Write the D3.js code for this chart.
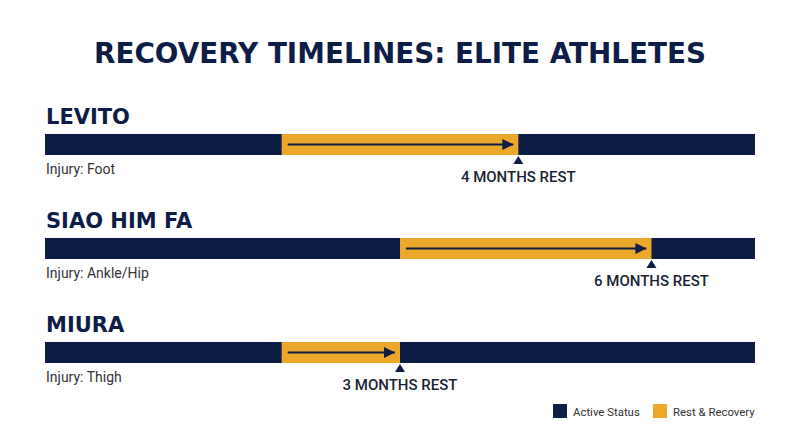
<!DOCTYPE html>
<html>
<head>
<meta charset="utf-8">
<script src="https://cdn.jsdelivr.net/npm/d3@7"></script>
<style>
  body { margin: 0; background: #fff; }
  svg { display: block; }
</style>
</head>
<body>
<div id="chart"></div>
<script>
// data
var athletes = ["LEVITO", "SIAO HIM FA", "MIURA"];
var injuries = ["Injury: Foot", "Injury: Ankle/Hip", "Injury: Thigh"];
var restStart = [4, 6, 4];
var restEnd = [8, 10.25, 6];
var restLabels = ["4 MONTHS REST", "6 MONTHS REST", "3 MONTHS REST"];
var legendLabels = ["Active Status", "Rest & Recovery"];

var width = 800, height = 447;
var navy = "#0e1d45", orange = "#eca82a";
var headFont = "'DejaVu Sans', sans-serif";
var bodyFont = "Roboto, sans-serif";

var svg = d3.select("#chart")
    .append("svg")
    .attr("width", width)
    .attr("height", height);

// arrow head
svg.append("defs").append("marker")
    .attr("id", "head")
    .attr("viewBox", "0 0 10 10")
    .attr("refX", 10).attr("refY", 5)
    .attr("markerWidth", 5.5).attr("markerHeight", 5.5)
    .attr("markerUnits", "strokeWidth")
    .attr("orient", "auto")
    .append("path")
    .attr("d", "M0,0L10,5L0,10Z")
    .attr("fill", navy);

// title
svg.append("text")
    .attr("x", 400).attr("y", 63)
    .attr("text-anchor", "middle")
    .attr("textLength", 612)
    .attr("lengthAdjust", "spacingAndGlyphs")
    .style("font-family", headFont)
    .style("font-weight", 700)
    .style("font-size", "29px")
    .style("fill", navy)
    .text("RECOVERY TIMELINES: ELITE ATHLETES");

var x = d3.scaleLinear().domain([0, 12]).range([45, 755]);
var y = d3.scalePoint().domain(athletes).range([134, 342]);
var barH = 21;

var rows = athletes.map(function (a, i) {
    return { name: a, injury: injuries[i], start: restStart[i], end: restEnd[i], label: restLabels[i] };
});

var row = svg.selectAll("g.row")
    .data(rows)
    .enter()
    .append("g")
    .attr("class", "row")
    .attr("transform", function (d) { return "translate(0," + y(d.name) + ")"; });

// name
row.append("text")
    .attr("x", 46).attr("y", -10)
    .style("font-family", headFont)
    .style("font-weight", 700)
    .style("font-size", "21px")
    .style("fill", navy)
    .text(function (d) { return d.name; });

// active bar (full span)
row.append("rect")
    .attr("x", x(0))
    .attr("width", x(12) - x(0))
    .attr("height", barH)
    .attr("fill", navy);

// rest bar
row.append("rect")
    .attr("x", function (d) { return x(d.start); })
    .attr("width", function (d) { return x(d.end) - x(d.start); })
    .attr("height", barH)
    .attr("fill", orange);

// arrow inside rest bar
row.append("line")
    .attr("x1", function (d) { return x(d.start) + 6; })
    .attr("x2", function (d) { return x(d.end) - 5; })
    .attr("y1", barH / 2).attr("y2", barH / 2)
    .attr("stroke", navy)
    .attr("stroke-width", 2)
    .attr("marker-end", "url(#head)");

// end marker
row.append("path")
    .attr("d", function (d) {
        var cx = x(d.end);
        return "M" + cx + "," + (barH + 1) + "L" + (cx + 5) + "," + (barH + 9) + "L" + (cx - 5) + "," + (barH + 9) + "Z";
    })
    .attr("fill", navy);

row.append("text")
    .attr("x", function (d) { return x(d.end); })
    .attr("y", barH + 27)
    .attr("text-anchor", "middle")
    .style("font-family", bodyFont)
    .style("font-weight", 500)
    .style("font-size", "15px")
    .style("fill", "#1a1f33")
    .text(function (d) { return d.label; });

// injury
row.append("text")
    .attr("x", 46).attr("y", barH + 19)
    .style("font-family", bodyFont)
    .style("font-size", "14px")
    .style("fill", "#333")
    .text(function (d) { return d.injury; });

// legend
var legend = svg.selectAll("g.legend")
    .data(legendLabels)
    .enter()
    .append("g")
    .attr("class", "legend")
    .attr("transform", function (d, i) { return "translate(" + (553 + i * 100) + ",404)"; });

legend.append("rect")
    .attr("width", 14).attr("height", 14)
    .attr("fill", function (d, i) { return i === 0 ? navy : orange; });

legend.append("text")
    .attr("x", 20).attr("y", 11.5)
    .style("font-family", bodyFont)
    .style("font-size", "11.4px")
    .style("fill", "#333")
    .text(function (d) { return d; });
</script>
</body>
</html>
